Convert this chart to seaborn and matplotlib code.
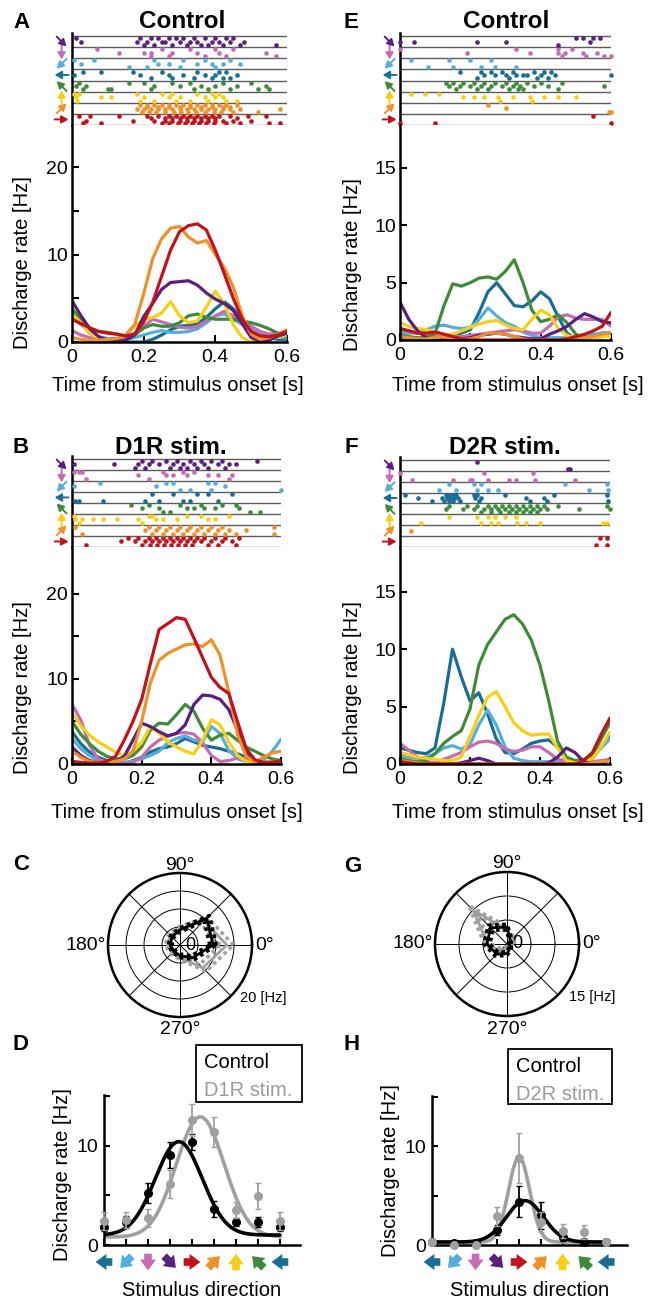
import numpy as np
import matplotlib
matplotlib.use("Agg")
import matplotlib.pyplot as plt
from matplotlib.transforms import blended_transform_factory, offset_copy
from matplotlib.patches import Rectangle
import seaborn as sns

sns.set_theme(style="ticks")
plt.rcParams["font.family"] = ["Liberation Sans", "DejaVu Sans"]
plt.rcParams["axes.linewidth"] = 1.8
plt.rcParams["axes.edgecolor"] = "black"
plt.rcParams["xtick.color"] = "black"
plt.rcParams["ytick.color"] = "black"
plt.rcParams["text.color"] = "black"
plt.rcParams["axes.facecolor"] = "white"
plt.rcParams["lines.solid_joinstyle"] = "round"
plt.rcParams["lines.solid_capstyle"] = "round"

# ------------------------------------------------------------------ data
DIRECTIONS = [0, 45, 90, 135, 180, 225, 270, 315]
DIR_COLORS = ["#C3121B", "#EF9126", "#F7D016", "#3E8C3A",
              "#186E94", "#55AFDD", "#C66CB4", "#5A1F80"]
GRAY = "#A0A0A0"
TIME = np.linspace(0.0, 0.6, 25)          # PSTH sample times [s]

# PSTH values (Hz), order = DIRECTIONS
PSTH_A = [
    [2.6, 2.1, 1.6, 1.2, 1.0, 0.9, 0.7, 0.9, 2.3, 4.5, 7.5, 10.5, 12.6, 13.3, 13.5, 12.8, 10.5, 7.8, 5.0, 2.6, 1.2, 0.7, 0.6, 0.8, 1.2],
    [0.5, 0.3, 0.2, 0.2, 0.3, 0.4, 0.8, 2.0, 5.5, 9.5, 11.8, 13.0, 13.2, 12.0, 11.3, 11.6, 10.0, 8.5, 6.3, 3.0, 0.9, 0.3, 0.5, 0.9, 1.4],
    [3.2, 2.2, 1.0, 0.4, 0.2, 0.3, 0.8, 1.8, 2.6, 2.8, 3.3, 4.6, 3.0, 2.2, 2.4, 4.0, 5.8, 4.4, 2.0, 0.5, 0.0, 0.1, 0.3, 0.6, 0.8],
    [3.8, 2.5, 1.6, 1.2, 1.1, 0.9, 0.6, 0.8, 1.6, 2.0, 1.8, 1.8, 2.2, 3.0, 3.2, 2.8, 2.6, 2.6, 2.6, 2.4, 2.2, 1.9, 1.5, 1.0, 0.6],
    [3.4, 2.2, 1.0, 0.4, 0.1, 0.0, 0.0, 0.0, 0.0, 0.3, 0.8, 1.4, 1.8, 1.9, 2.1, 2.8, 3.8, 4.6, 3.8, 2.5, 1.4, 0.8, 0.5, 0.3, 0.3],
    [2.8, 2.0, 1.2, 0.6, 0.4, 0.3, 0.3, 0.5, 0.8, 1.1, 1.3, 1.1, 1.1, 1.2, 1.5, 2.2, 3.0, 3.2, 2.6, 2.0, 1.4, 1.0, 0.7, 0.5, 0.5],
    [1.3, 0.8, 0.5, 0.3, 0.3, 0.4, 0.6, 1.0, 1.8, 2.6, 2.3, 2.0, 1.7, 1.6, 1.8, 2.4, 3.0, 3.5, 3.0, 2.4, 1.8, 1.2, 0.9, 1.0, 1.1],
    [4.7, 3.0, 1.5, 0.6, 0.2, 0.1, 0.2, 0.8, 2.9, 4.4, 6.0, 6.8, 6.9, 7.0, 6.5, 5.6, 4.9, 4.4, 3.6, 2.1, 0.5, 0.1, 0.2, 0.7, 1.0],
]
PSTH_B = [
    [0.3, 0.2, 0.1, 0.1, 0.3, 0.9, 2.8, 5.0, 7.6, 11.8, 15.8, 16.5, 17.2, 17.0, 14.8, 12.5, 10.2, 9.0, 8.3, 5.0, 1.8, 0.5, 0.2, 0.2, 0.3],
    [1.5, 0.8, 0.3, 0.2, 0.2, 0.3, 0.6, 1.5, 5.0, 9.5, 12.2, 13.0, 13.5, 14.0, 14.1, 13.8, 14.6, 12.8, 8.5, 3.5, 0.9, 0.2, 0.8, 1.3, 1.5],
    [6.0, 4.5, 3.4, 2.6, 2.0, 1.4, 0.9, 1.5, 2.5, 4.4, 3.6, 2.6, 2.0, 1.5, 1.2, 2.8, 5.2, 4.6, 2.6, 1.0, 0.3, 0.2, 0.2, 0.3, 0.3],
    [5.0, 3.5, 2.4, 1.5, 0.9, 0.6, 0.6, 1.0, 2.0, 4.0, 4.8, 4.7, 5.8, 7.0, 6.2, 4.2, 2.8, 3.4, 3.6, 2.8, 2.0, 1.5, 1.0, 0.6, 0.4],
    [3.8, 2.4, 1.4, 0.8, 0.4, 0.2, 0.1, 0.4, 0.8, 1.4, 1.8, 2.0, 2.4, 3.0, 2.6, 2.2, 2.0, 1.8, 1.5, 1.2, 0.8, 0.4, 0.2, 0.1, 0.1],
    [3.0, 1.8, 1.0, 0.4, 0.2, 0.2, 0.2, 0.3, 0.6, 1.0, 1.5, 2.5, 3.0, 3.3, 2.8, 2.6, 4.4, 3.6, 1.6, 0.6, 0.3, 0.2, 0.5, 1.5, 2.9],
    [7.0, 5.2, 2.2, 0.6, 0.2, 0.1, 0.1, 0.2, 0.8, 2.0, 2.8, 3.3, 3.6, 3.7, 3.5, 2.5, 1.0, 0.3, 0.4, 0.7, 0.6, 0.3, 0.2, 0.2, 0.2],
    [2.0, 1.0, 0.4, 0.2, 0.1, 0.3, 0.9, 2.8, 4.8, 4.4, 3.8, 3.3, 3.6, 4.6, 7.0, 8.1, 8.0, 7.6, 6.4, 4.0, 1.5, 0.3, 0.1, 0.2, 0.4],
]
PSTH_E = [
    [1.0, 0.8, 0.6, 0.6, 0.7, 0.5, 0.3, 0.1, 0.0, 0.0, 0.0, 0.0, 0.0, 0.0, 0.0, 0.0, 0.0, 0.0, 0.0, 0.1, 0.3, 0.5, 0.8, 1.2, 2.4],
    [0.3, 0.2, 0.1, 0.1, 0.2, 0.3, 0.2, 0.1, 0.1, 0.3, 0.6, 0.6, 0.5, 0.3, 0.1, 0.0, 0.0, 0.0, 0.0, 0.1, 0.2, 0.2, 0.3, 0.5, 0.6],
    [1.5, 1.2, 1.0, 0.9, 0.7, 0.5, 0.5, 0.8, 1.1, 1.4, 1.6, 1.7, 1.3, 1.0, 0.9, 1.8, 2.6, 2.2, 1.0, 0.4, 0.2, 0.2, 0.2, 0.3, 0.3],
    [0.5, 0.3, 0.2, 0.2, 0.6, 3.0, 4.9, 4.7, 5.0, 5.4, 5.5, 5.3, 6.0, 7.0, 5.0, 2.6, 1.6, 1.8, 2.2, 1.5, 0.5, 0.2, 0.2, 0.3, 0.4],
    [0.2, 0.1, 0.1, 0.1, 0.2, 0.3, 0.4, 0.6, 0.9, 2.4, 4.2, 5.0, 4.0, 3.0, 2.9, 3.4, 4.2, 3.6, 2.0, 0.6, 0.1, 0.2, 0.4, 0.6, 0.6],
    [0.8, 0.6, 0.6, 0.9, 1.2, 1.3, 1.1, 1.0, 1.1, 1.8, 2.8, 2.1, 1.5, 1.2, 0.7, 0.4, 0.2, 0.2, 0.2, 0.2, 0.2, 0.4, 0.5, 0.6, 0.6],
    [1.0, 0.8, 0.6, 0.5, 0.4, 0.3, 0.3, 0.3, 0.4, 0.5, 0.6, 0.7, 0.8, 0.9, 0.8, 0.6, 0.6, 1.2, 2.0, 2.2, 1.9, 1.8, 1.8, 1.8, 1.2],
    [3.3, 1.8, 0.8, 0.2, 0.0, 0.0, 0.0, 0.1, 0.2, 0.4, 0.5, 0.6, 0.5, 0.3, 0.2, 0.1, 0.1, 0.5, 0.8, 1.2, 1.8, 2.3, 2.0, 1.6, 1.5],
]
PSTH_F = [
    [0.2, 0.1, 0.0, 0.0, 0.0, 0.0, 0.0, 0.0, 0.0, 0.0, 0.0, 0.0, 0.0, 0.0, 0.0, 0.0, 0.0, 0.0, 0.0, 0.0, 0.0, 0.3, 1.0, 2.6, 4.0],
    [0.3, 0.2, 0.1, 0.0, 0.0, 0.0, 0.0, 0.0, 0.0, 0.0, 0.0, 0.0, 0.0, 0.0, 0.0, 0.0, 0.0, 0.0, 0.0, 0.0, 0.0, 0.0, 0.1, 0.2, 0.3],
    [1.0, 0.8, 0.6, 0.5, 0.4, 0.3, 0.3, 0.6, 2.4, 4.2, 5.8, 6.3, 5.0, 3.6, 2.9, 2.5, 2.6, 2.6, 1.4, 0.3, 0.1, 0.2, 0.5, 1.5, 2.8],
    [0.5, 0.3, 0.2, 0.3, 0.9, 1.8, 2.4, 2.9, 4.8, 8.6, 10.4, 11.5, 12.6, 13.0, 12.2, 10.8, 8.6, 5.5, 2.0, 0.6, 0.3, 0.4, 0.8, 2.2, 3.6],
    [1.4, 1.2, 1.0, 0.9, 1.4, 5.3, 10.0, 7.6, 5.5, 6.2, 4.4, 2.2, 1.0, 0.9, 1.3, 1.8, 2.0, 2.1, 1.5, 0.5, 0.2, 0.2, 0.5, 1.5, 2.5],
    [0.8, 0.6, 0.5, 0.6, 0.9, 1.4, 1.6, 1.3, 1.7, 3.4, 4.7, 3.4, 1.5, 0.5, 0.3, 0.2, 0.2, 0.2, 0.2, 0.2, 0.3, 0.3, 0.6, 1.4, 2.2],
    [1.8, 1.2, 0.6, 0.2, 0.1, 0.4, 0.7, 1.0, 1.5, 1.9, 2.0, 1.8, 1.3, 1.1, 1.2, 1.5, 1.5, 1.0, 0.4, 0.3, 0.3, 0.2, 0.2, 0.3, 0.4],
    [0.0, 0.0, 0.0, 0.0, 0.0, 0.0, 0.0, 0.1, 0.3, 0.5, 0.3, 0.0, 0.0, 0.0, 0.0, 0.0, 0.0, 0.1, 0.6, 1.4, 1.0, 0.2, 0.0, 0.0, 0.4],
]

# Raster spike times [s]: per direction, a list of trials
RASTER_A = [
    [[0.02, 0.05, 0.13, 0.21, 0.24, 0.27, 0.29, 0.31, 0.33, 0.35, 0.37, 0.39, 0.41, 0.44, 0.49, 0.54],
     [0.22, 0.26, 0.28, 0.30, 0.32, 0.34, 0.36, 0.38, 0.40, 0.46],
     [0.04, 0.17, 0.23, 0.26, 0.28, 0.30, 0.32, 0.34, 0.36, 0.38, 0.40, 0.42, 0.45, 0.50],
     [0.03, 0.08, 0.25, 0.27, 0.295, 0.315, 0.335, 0.355, 0.375, 0.395, 0.43, 0.47, 0.55, 0.58]],
    [[0.19, 0.21, 0.23, 0.25, 0.27, 0.29, 0.31, 0.33, 0.35, 0.37, 0.39, 0.41, 0.43, 0.46],
     [0.21, 0.24, 0.27, 0.30, 0.33, 0.36, 0.39, 0.42, 0.44],
     [0.18, 0.20, 0.22, 0.24, 0.26, 0.28, 0.30, 0.32, 0.34, 0.36, 0.38, 0.40, 0.42, 0.44, 0.47, 0.58],
     [0.195, 0.215, 0.235, 0.26, 0.285, 0.305, 0.325, 0.345, 0.37, 0.395, 0.415, 0.45, 0.52]],
    [[0.005, 0.02, 0.18, 0.25, 0.28, 0.35, 0.39, 0.41],
     [0.01, 0.08, 0.11, 0.20, 0.27, 0.30, 0.37, 0.40, 0.42],
     [0.015, 0.19, 0.23, 0.29, 0.33, 0.38, 0.43, 0.46]],
    [[0.02, 0.16, 0.20, 0.28, 0.33, 0.42, 0.50],
     [0.01, 0.04, 0.23, 0.30, 0.36, 0.40, 0.46, 0.54],
     [0.03, 0.10, 0.11, 0.22, 0.34, 0.38, 0.44, 0.52, 0.55]],
    [[0.03, 0.08, 0.17, 0.25, 0.35, 0.41, 0.43],
     [0.005, 0.19, 0.27, 0.31, 0.37, 0.40, 0.46],
     [0.22, 0.28, 0.34, 0.39, 0.42, 0.44]],
    [[0.005, 0.06, 0.23, 0.31, 0.37, 0.44],
     [0.025, 0.24, 0.27, 0.35, 0.39, 0.42, 0.47],
     [0.16, 0.21, 0.30, 0.40]],
    [[0.07, 0.25, 0.33, 0.40, 0.45],
     [0.13, 0.20, 0.22, 0.28, 0.35, 0.41, 0.54],
     [0.22, 0.27, 0.37, 0.43, 0.57]],
    [[0.01, 0.19, 0.22, 0.24, 0.27, 0.29, 0.31, 0.34, 0.37, 0.40, 0.43, 0.45],
     [0.025, 0.18, 0.21, 0.25, 0.26, 0.30, 0.33, 0.35, 0.39, 0.41, 0.44, 0.48],
     [0.20, 0.23, 0.28, 0.32, 0.36, 0.38, 0.42, 0.47, 0.57]],
]
RASTER_B = [
    [[0.16, 0.19, 0.22, 0.24, 0.26, 0.28, 0.30, 0.32, 0.34, 0.36, 0.38, 0.41, 0.44, 0.48],
     [0.14, 0.18, 0.21, 0.23, 0.25, 0.27, 0.29, 0.31, 0.33, 0.35, 0.37, 0.40, 0.43, 0.46],
     [0.04, 0.20, 0.225, 0.245, 0.265, 0.285, 0.305, 0.325, 0.345, 0.39, 0.42, 0.47]],
    [[0.01, 0.22, 0.25, 0.28, 0.31, 0.34, 0.37, 0.40, 0.43, 0.58],
     [0.21, 0.24, 0.27, 0.30, 0.33, 0.36, 0.39, 0.42, 0.45, 0.50],
     [0.03, 0.23, 0.26, 0.29, 0.32, 0.35, 0.38, 0.41, 0.44, 0.47, 0.58]],
    [[0.006, 0.22, 0.23, 0.33, 0.37, 0.45],
     [0.01, 0.03, 0.06, 0.09, 0.13, 0.19, 0.24, 0.26, 0.30, 0.39, 0.41],
     [0.02, 0.20]],
    [[0.17, 0.22, 0.31, 0.37, 0.43, 0.47],
     [0.20, 0.25, 0.33, 0.35, 0.38, 0.41, 0.48],
     [0.26, 0.28, 0.51, 0.54]],
    [[0.23, 0.29, 0.36, 0.39, 0.46],
     [0.01, 0.02, 0.09, 0.21, 0.25, 0.32, 0.34, 0.42]],
    [[0.08, 0.27, 0.29, 0.39, 0.41],
     [0.005, 0.24, 0.44],
     [0.31, 0.34, 0.40, 0.60]],
    [[0.005, 0.02, 0.03, 0.26, 0.32, 0.35],
     [0.19, 0.27, 0.29, 0.33, 0.39, 0.42, 0.46],
     [0.04, 0.22, 0.45]],
    [[0.20, 0.23, 0.27, 0.30, 0.34, 0.37, 0.40, 0.43, 0.53],
     [0.005, 0.12, 0.19, 0.22, 0.25, 0.29, 0.32, 0.35, 0.38, 0.42, 0.45, 0.47],
     [0.18, 0.21, 0.28, 0.31, 0.33, 0.36, 0.39, 0.44]],
]
RASTER_E = [
    [[0.55], [], [0.0, 0.1, 0.6]],
    [[0.25], [0.30], [0.595, 0.60]],
    [[0.03, 0.07, 0.11], [0.18, 0.21, 0.24, 0.28, 0.32, 0.37, 0.41, 0.45, 0.50], [0.285, 0.375]],
    [[0.13, 0.15, 0.18, 0.21, 0.24, 0.27, 0.30, 0.33, 0.36, 0.40, 0.46],
     [0.14, 0.17, 0.20, 0.23, 0.26, 0.29, 0.32, 0.34, 0.38, 0.42, 0.58],
     [0.16, 0.22, 0.25, 0.31, 0.335, 0.35, 0.45]],
    [[0.17, 0.23, 0.26, 0.29, 0.32, 0.38, 0.41, 0.43],
     [0.24, 0.27, 0.30, 0.33, 0.35, 0.36, 0.40, 0.44, 0.60],
     [0.22, 0.31, 0.39, 0.42]],
    [[0.03, 0.14, 0.20, 0.26], [0.08, 0.15, 0.23, 0.27, 0.33]],
    [[0.0, 0.33, 0.45, 0.49], [0.19, 0.37, 0.45, 0.47, 0.52, 0.56], [0.46, 0.53, 0.58, 0.60]],
    [[0.50, 0.52, 0.55, 0.57], [0.0, 0.04, 0.22, 0.30, 0.54], [0.45]],
]
RASTER_F = [
    [[0.57, 0.59], [0.56, 0.59]],
    [[0.03]],
    [[0.14, 0.22, 0.25, 0.27, 0.30, 0.33], [0.06, 0.23, 0.26, 0.28, 0.335, 0.36, 0.40, 0.58, 0.59]],
    [[0.14, 0.19, 0.22, 0.25, 0.27, 0.29, 0.31, 0.33, 0.35, 0.37, 0.39, 0.41, 0.45, 0.59],
     [0.13, 0.18, 0.21, 0.24, 0.26, 0.28, 0.30, 0.32, 0.34, 0.36, 0.38, 0.40, 0.42, 0.51, 0.60],
     [0.23, 0.26, 0.285, 0.31, 0.33, 0.35, 0.37, 0.39]],
    [[0.015, 0.13, 0.14, 0.15, 0.16, 0.21, 0.22, 0.30, 0.44, 0.59],
     [0.05, 0.12, 0.135, 0.145, 0.155, 0.165, 0.215, 0.23, 0.36, 0.41],
     [0.09, 0.125, 0.14, 0.15, 0.17, 0.225, 0.37, 0.42, 0.595]],
    [[0.14, 0.21, 0.23, 0.47, 0.59], [0.11, 0.16, 0.22, 0.25, 0.28, 0.54, 0.595]],
    [[0.0, 0.24, 0.38], [0.035, 0.15, 0.20, 0.205, 0.25, 0.31, 0.33, 0.385, 0.50]],
    [[0.22], [0.48, 0.485]],
]

# Polar plots (mean rate +- SEM, Hz), order = DIRECTIONS
C_CTRL = [9.2, 10.5, 4.2, 3.2, 2.7, 2.5, 3.0, 5.0]
C_CTRL_SEM = [0.9, 1.0, 0.6, 0.5, 0.5, 0.5, 0.5, 0.7]
C_D1R = [13.0, 9.5, 4.5, 3.8, 3.5, 3.0, 3.5, 9.0]
C_D1R_SEM = [1.8, 1.3, 0.7, 0.6, 0.6, 0.5, 0.6, 1.3]
G_CTRL = [0.5, 1.0, 3.5, 4.8, 4.2, 3.0, 2.0, 1.0]
G_CTRL_SEM = [0.3, 0.4, 0.6, 0.7, 0.6, 0.5, 0.4, 0.3]
G_D2R = [1.0, 1.5, 3.0, 10.0, 4.0, 2.0, 1.0, 0.5]
G_D2R_SEM = [0.4, 0.5, 0.6, 1.3, 0.7, 0.5, 0.4, 0.3]

# Tuning curves
TUNE_X = [180, 225, 270, 315, 360, 405, 450, 495, 540]
TUNE_DIR_IDX = [4, 5, 6, 7, 0, 1, 2, 3, 4]
D_CTRL = [1.8, 2.3, 5.2, 9.1, 10.4, 3.6, 2.3, 2.3, 1.8]
D_CTRL_ERR = [0.4, 0.6, 1.0, 1.3, 0.8, 0.8, 0.4, 0.5, 0.4]
D_D1R = [2.4, 2.5, 2.7, 6.1, 12.6, 11.4, 3.5, 4.9, 2.4]
D_D1R_ERR = [0.9, 0.8, 0.9, 1.4, 1.6, 1.5, 0.8, 1.3, 0.9]
H_CTRL = [0.3, 0.2, 0.2, 1.5, 4.4, 3.0, 0.8, 0.3, 0.3]
H_CTRL_ERR = [0.1, 0.1, 0.1, 0.5, 1.6, 1.4, 0.4, 0.3, 0.1]
H_D2R = [0.3, 0.05, 0.05, 2.9, 8.8, 2.3, 1.4, 1.3, 0.3]
H_D2R_ERR = [0.1, 0.1, 0.1, 1.0, 2.5, 1.0, 0.7, 0.7, 0.1]
# Gaussian fit parameters: baseline, amplitude, centre [deg], width [deg]
D_CTRL_FIT = [1.0, 9.4, 333, 48]
D_D1R_FIT = [0.8, 12.1, 377, 49]
H_CTRL_FIT = [0.3, 4.2, 372, 38]
H_D2R_FIT = [0.3, 8.6, 360, 22]

# ------------------------------------------------------------------ figure
W, H = 648, 1300
fig = plt.figure(figsize=(W / 100, H / 100), dpi=100)
fig.patch.set_facecolor("white")

TICK_FS = 14
LAB_FS = 14.5


def px_ax(l, t, r, b, **kw):
    return fig.add_axes([l / W, 1 - b / H, (r - l) / W, (b - t) / H], **kw)


def ftext(x, y, s, **kw):
    fig.text(x / W, 1 - y / H, s, **kw)


def arrow(ax, trans, x, y, ang, length, color, style, scale, lw, dx=0.0, dy=0.0):
    ux, uy = np.cos(np.deg2rad(ang)), np.sin(np.deg2rad(ang))
    tip = offset_copy(trans, fig=fig, x=dx + ux * length / 2, y=dy + uy * length / 2, units="points")
    ax.annotate("", xy=(x, y), xycoords=tip,
                xytext=(-ux * length, -uy * length), textcoords="offset points",
                arrowprops=dict(arrowstyle=style, color=color, lw=lw, mutation_scale=scale,
                                shrinkA=0, shrinkB=0),
                annotation_clip=False)


DRAW_ORDER = [4, 5, 6, 3, 2, 7, 1, 0]


def raster_psth(box_r, box_p, raster, psth, ytop, yticks, ylabels):
    axr = px_ax(*box_r)
    axp = px_ax(*box_p)
    # raster
    for i in range(9):
        axr.axhline(i, color="#5c5c5c", lw=1.0, zorder=1)
    for d, trials in enumerate(raster):
        n = len(trials)
        xs, ys = [], []
        for k, tr in enumerate(trials):
            yy = d + (0.8 - 0.6 * k / (n - 1) if n > 1 else 0.5)
            xs += tr
            ys += [yy] * len(tr)
        if xs:
            sns.scatterplot(x=xs, y=ys, color=DIR_COLORS[d], s=11, linewidth=0,
                            ax=axr, clip_on=False, zorder=3, legend=False)
    axr.set_xlim(0, 0.6)
    axr.set_ylim(0, 8.27)
    axr.set_xticks([])
    axr.set_yticks([])
    for s in ("top", "right", "bottom"):
        axr.spines[s].set_visible(False)
    trans = blended_transform_factory(axr.transAxes, axr.transData)
    for d, ang in enumerate(DIRECTIONS):
        arrow(axr, trans, 0, d + 0.5, ang, 10.0, DIR_COLORS[d],
              "-|>,head_length=0.5,head_width=0.28", 8, 1.4, dx=-7.5)
    # psth
    for d in DRAW_ORDER:
        sns.lineplot(x=TIME, y=psth[d], color=DIR_COLORS[d], lw=2.3, ax=axp, legend=False)
    axp.set_xlim(0, 0.6)
    axp.set_ylim(0, ytop)
    for s in ("top", "right"):
        axp.spines[s].set_visible(False)
    axp.set_xticks([0, 0.2, 0.4, 0.6])
    axp.set_xticklabels(["0", "0.2", "0.4", "0.6"])
    axp.set_yticks(yticks)
    axp.set_yticklabels(ylabels)
    axp.tick_params(direction="in", length=5, width=1.5, labelsize=TICK_FS, pad=3)
    axp.tick_params(axis="x", pad=5)
    axp.set_xlabel("")
    axp.set_ylabel("")
    return axr, axp


# A / B / E / F
raster_psth((72, 33, 287, 125), (72, 125, 287, 342), RASTER_A, PSTH_A, 24.8,
            [0, 5, 10, 15, 20], ["0", "", "10", "", "20"])
raster_psth((72, 456, 281, 547), (72, 547, 281, 764), RASTER_B, PSTH_B, 25.5,
            [0, 5, 10, 15, 20], ["0", "", "10", "", "20"])
raster_psth((400, 33, 611, 125), (400, 125, 611, 340), RASTER_E, PSTH_E, 18.75,
            [0, 5, 10, 15], ["0", "5", "10", "15"])
raster_psth((400, 457, 610, 547), (400, 547, 610, 764), RASTER_F, PSTH_F, 18.9,
            [0, 5, 10, 15], ["0", "5", "10", "15"])

for (x, y) in ((23, 263), (23, 688), (353, 265), (353, 688)):
    ftext(x, y, "Discharge rate [Hz]", rotation=90, ha="center", va="center", fontsize=LAB_FS)
for (x, y) in ((178, 386), (177, 812), (518, 386), (518, 812)):
    ftext(x, y, "Time from stimulus onset [s]", ha="center", va="center", fontsize=LAB_FS)

ftext(182, 22, "Control", ha="center", va="center", fontsize=17.5, fontweight="bold")
ftext(506, 22, "Control", ha="center", va="center", fontsize=17.5, fontweight="bold")
ftext(171, 447, "D1R stim.", ha="center", va="center", fontsize=17.5, fontweight="bold")
ftext(505, 448, "D2R stim.", ha="center", va="center", fontsize=17.5, fontweight="bold")


# polar plots: polar grid + straight-edged polygons on a matching square overlay
def polar(center, r_px, rmax, rings, ctrl, ctrl_sem, stim, stim_sem, scale_text, scale_x):
    cx, cy = center
    box = (cx - r_px, cy - r_px, cx + r_px, cy + r_px)
    ax = px_ax(*box, projection="polar")
    ax.set_ylim(0, rmax)
    ax.set_rgrids(rings, labels=[""] * len(rings))
    ax.set_thetagrids(DIRECTIONS, labels=[""] * 8)
    ax.grid(True, color="black", lw=0.7)
    ax.spines["polar"].set_linewidth(1.8)
    ax.spines["polar"].set_color("black")
    ax.set_facecolor("white")
    ax.annotate("0", xy=(0, 0), xytext=(4, 0), textcoords="offset points",
                ha="left", va="center", fontsize=13, zorder=1)
    ov = px_ax(*box)
    ov.set_facecolor("none")
    ov.set_xlim(-rmax, rmax)
    ov.set_ylim(-rmax, rmax)
    ov.axis("off")
    th = np.deg2rad(DIRECTIONS + [360])
    for vals, sem, color in ((stim, stim_sem, GRAY), (ctrl, ctrl_sem, "black")):
        v = np.array(list(vals) + [vals[0]])
        s = np.array(list(sem) + [sem[0]])
        for rr, lw, ls in ((v, 2.0, "-"), (v + s, 2.6, (0, (1, 1))),
                           (np.maximum(v - s, 0), 2.6, (0, (1, 1)))):
            ov.plot(rr * np.cos(th), rr * np.sin(th), color=color, lw=lw, ls=ls)
    ftext(cx, cy - r_px - 8, "90°", ha="center", va="center", fontsize=14)
    ftext(cx - r_px - 2, cy, "180°", ha="right", va="center", fontsize=14)
    ftext(cx + r_px + 3, cy, "0°", ha="left", va="center", fontsize=14)
    ftext(cx, cy + r_px + 13, "270°", ha="center", va="center", fontsize=14)
    ftext(scale_x, cy + 53, scale_text, ha="left", va="center", fontsize=10.5)


polar((180, 945), 72, 20, [5, 10, 15], C_CTRL, C_CTRL_SEM, C_D1R, C_D1R_SEM, "20 [Hz]", 240)
polar((507, 944), 72, 15, [5, 10], G_CTRL, G_CTRL_SEM, G_D2R, G_D2R_SEM, "15 [Hz]", 569)


# tuning curves
def tuning(box, ctrl, ctrl_err, stim, stim_err, fit_ctrl, fit_stim, xmax, legend_box, stim_name):
    ax = px_ax(*box)
    xs = np.linspace(180, 540, 361)
    for params, color in ((fit_stim, GRAY), (fit_ctrl, "black")):
        b, a, mu, sd = params
        yfit = b + a * np.exp(-0.5 * ((xs - mu) / sd) ** 2)
        sns.lineplot(x=xs, y=yfit, color=color, lw=2.6, ax=ax, legend=False)
    ax.errorbar(TUNE_X, ctrl, yerr=ctrl_err, fmt="o", color="black", ms=5.5,
                elinewidth=1.3, capsize=2, clip_on=False, zorder=5)
    ax.errorbar(TUNE_X, stim, yerr=stim_err, fmt="o", color=GRAY, ms=5.5,
                elinewidth=1.3, capsize=2, clip_on=False, zorder=6)
    ax.set_xlim(180, xmax)
    ax.set_ylim(0, 15.1)
    for s in ("top", "right"):
        ax.spines[s].set_visible(False)
    ax.set_xticks(TUNE_X)
    ax.set_xticklabels([""] * len(TUNE_X))
    ax.set_yticks([0, 5, 10, 15])
    ax.set_yticklabels(["0", "", "10", ""])
    ax.tick_params(direction="in", length=4, width=1.5, labelsize=TICK_FS, pad=4)
    ax.set_xlabel("")
    ax.set_ylabel("")
    trans = blended_transform_factory(ax.transData, ax.transAxes)
    yfrac = -17.0 / (box[3] - box[1])
    for x, di in zip(TUNE_X, TUNE_DIR_IDX):
        arrow(ax, trans, x, yfrac, DIRECTIONS[di], 12.0, DIR_COLORS[di],
              "simple,head_length=0.7,head_width=1.05,tail_width=0.5", 11, 0)
    l, t, r, b = legend_box
    fig.patches.append(Rectangle((l / W, 1 - b / H), (r - l) / W, (b - t) / H,
                                 transform=fig.transFigure, fill=False,
                                 edgecolor="black", lw=1.3))
    ftext(l + 8, t + 18, "Control", ha="left", va="center", fontsize=LAB_FS, color="black")
    ftext(l + 8, t + 45, stim_name, ha="left", va="center", fontsize=LAB_FS, color="#9B9B9B")
    return ax


tuning((104, 1095, 300, 1245), D_CTRL, D_CTRL_ERR, D_D1R, D_D1R_ERR,
       D_CTRL_FIT, D_D1R_FIT, 581, (196, 1045, 302, 1102), "D1R stim.")
tuning((432, 1096, 627, 1245), H_CTRL, H_CTRL_ERR, H_D2R, H_D2R_ERR,
       H_CTRL_FIT, H_D2R_FIT, 583, (508, 1049, 612, 1104), "D2R stim.")

ftext(62, 1175, "Discharge rate [Hz]", rotation=90, ha="center", va="center", fontsize=LAB_FS)
ftext(391, 1171, "Discharge rate [Hz]", rotation=90, ha="center", va="center", fontsize=LAB_FS)
ftext(202, 1290, "Stimulus direction", ha="center", va="center", fontsize=LAB_FS)
ftext(530, 1291, "Stimulus direction", ha="center", va="center", fontsize=LAB_FS)

# panel letters
for letter, (x, y) in zip("ABCDEFGH", [(22, 23), (21, 447), (21, 865), (21, 1045),
                                       (351, 23), (351, 448), (353, 866), (352, 1045)]):
    ftext(x, y, letter, ha="center", va="center", fontsize=16, fontweight="bold")

fig.savefig("out.png", dpi=100, facecolor="white")
